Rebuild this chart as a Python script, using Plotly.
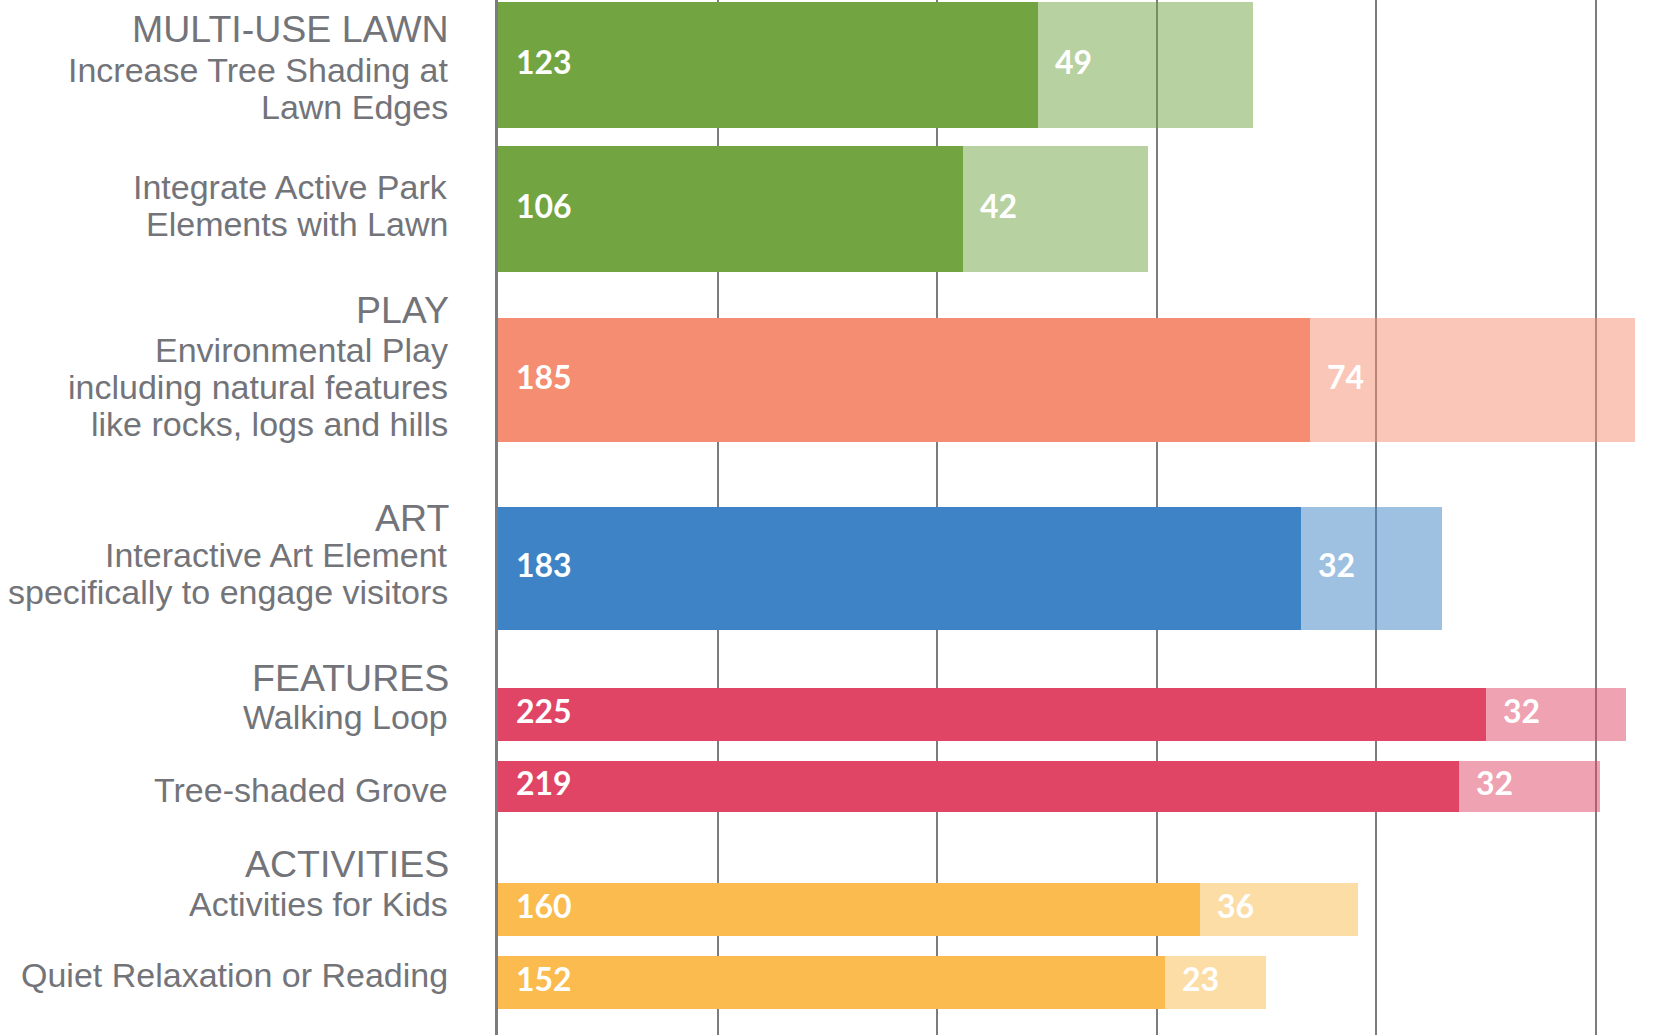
import plotly.graph_objects as go

# ---------------- data ----------------
groups = ["MULTI-USE LAWN", "PLAY", "ART", "FEATURES", "ACTIVITIES"]
items = [
    "Increase Tree Shading at\nLawn Edges",
    "Integrate Active Park\nElements with Lawn",
    "Environmental Play\nincluding natural features\nlike rocks, logs and hills",
    "Interactive Art Element\nspecifically to engage visitors",
    "Walking Loop",
    "Tree-shaded Grove",
    "Activities for Kids",
    "Quiet Relaxation or Reading",
]
item_group = [0, 0, 1, 2, 3, 3, 4, 4]
primary_votes = [123, 106, 185, 183, 225, 219, 160, 152]
secondary_votes = [49, 42, 74, 32, 32, 32, 36, 23]
x_ticks = [0, 50, 100, 150, 200, 250]

# ---------------- layout / style ----------------
W, H = 1657, 1035
LEFT = 498
x_max = 264
row_center = [65, 209, 380, 568, 714, 786, 909, 982]
row_thick = [126, 126, 124, 123, 53, 51, 53, 53]
group_baseline = [42, 323, 531, 691, 877]
item_baseline = [82, 199, 362, 567, 729, 802, 916, 987]
line_gap = 37
group_colors = ["#72A442", "#F48D72", "#3D83C5", "#E04566", "#FBBB4E"]
text_grey = "#737479"
grid_grey = "#7C7C80"
label_font = "Liberation Sans, Arial, sans-serif"
value_font = "Lato, Roboto, sans-serif"
head_size = 37.5
sub_size = 34
value_size = 32


def rgba(hex_color, a):
    h = hex_color.lstrip("#")
    r, g, b = int(h[0:2], 16), int(h[2:4], 16), int(h[4:6], 16)
    return f"rgba({r},{g},{b},{a})"


dark_cols = [group_colors[g] for g in item_group]
light_cols = [rgba(group_colors[g], 0.5) for g in item_group]

fig = go.Figure()
fig.add_trace(go.Bar(
    x=primary_votes, y=row_center, width=row_thick, orientation="h",
    marker=dict(color=dark_cols, line=dict(width=0)), hoverinfo="skip",
))
fig.add_trace(go.Bar(
    x=secondary_votes, y=row_center, width=row_thick, orientation="h",
    base=primary_votes,
    marker=dict(color=light_cols, line=dict(width=0)), hoverinfo="skip",
))

annotations = []
# value labels
for i in range(len(items)):
    annotations.append(dict(
        x=0, y=row_center[i], xref="x", yref="y", xanchor="left", yanchor="middle",
        xshift=16, yshift=4, text=f"<b>{primary_votes[i]}</b>", showarrow=False,
        font=dict(family=value_font, size=value_size, color="white"),
    ))
    annotations.append(dict(
        x=primary_votes[i], y=row_center[i], xref="x", yref="y", xanchor="left",
        yanchor="middle", xshift=15, yshift=4, text=f"<b>{secondary_votes[i]}</b>",
        showarrow=False,
        font=dict(family=value_font, size=value_size, color="white"),
    ))

# group headings
for g, name in enumerate(groups):
    annotations.append(dict(
        x=0, y=group_baseline[g] - 0.35 * head_size, xref="paper", yref="y",
        xanchor="right", yanchor="middle", xshift=-47, text=name, showarrow=False,
        font=dict(family=label_font, size=head_size, color=text_grey),
    ))

# item labels (one annotation per line)
for i, label in enumerate(items):
    for k, line in enumerate(label.split("\n")):
        annotations.append(dict(
            x=0, y=item_baseline[i] + k * line_gap - 0.35 * sub_size,
            xref="paper", yref="y", xanchor="right", yanchor="middle", xshift=-48,
            text=line, showarrow=False,
            font=dict(family=label_font, size=sub_size, color=text_grey),
        ))

fig.update_layout(
    width=W, height=H,
    margin=dict(l=LEFT, r=0, t=0, b=0, pad=0),
    paper_bgcolor="white", plot_bgcolor="white",
    barmode="overlay", bargap=0, showlegend=False,
    annotations=annotations,
    hovermode=False,
)
fig.update_xaxes(
    range=[0, x_max], tickvals=x_ticks, showticklabels=False, ticks="",
    showgrid=True, gridcolor=grid_grey, gridwidth=1.5, zeroline=False,
    showline=False, fixedrange=True,
)
fig.update_yaxes(
    range=[H, 0], showticklabels=False, ticks="", showgrid=False, zeroline=False,
    showline=True, linecolor=grid_grey, linewidth=3, fixedrange=True,
)

fig.write_html(
    "out.html",
    config={"displayModeBar": False},
    post_script="document.body.style.margin='0';document.body.style.overflow='hidden';",
)
